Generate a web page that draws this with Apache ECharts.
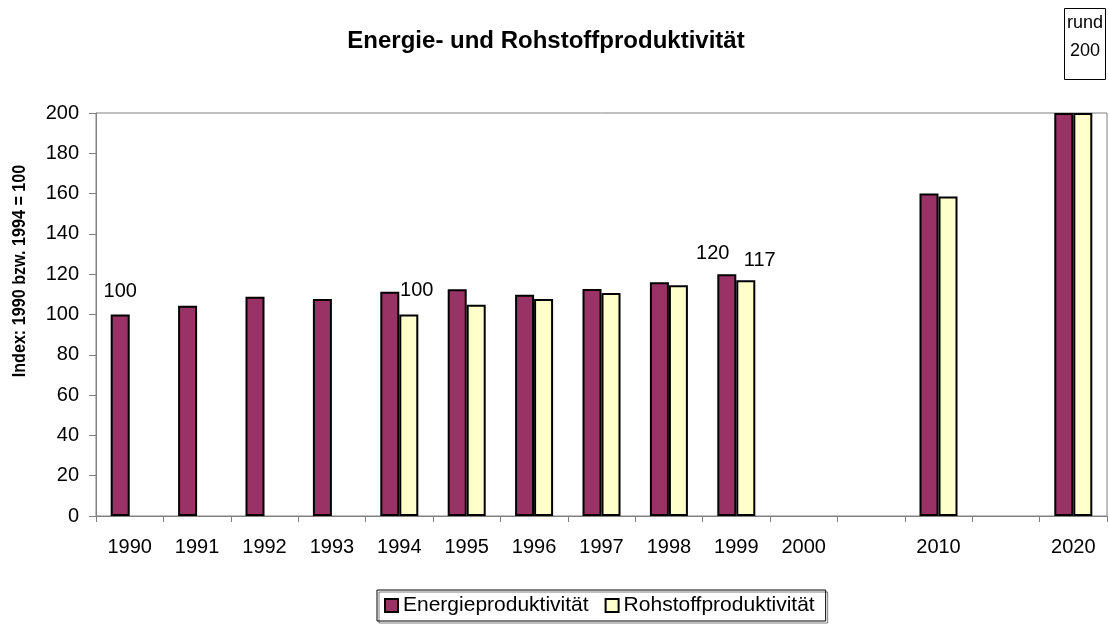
<!DOCTYPE html>
<html>
<head>
<meta charset="utf-8">
<script src="https://cdn.jsdelivr.net/npm/echarts@6/dist/echarts.min.js"></script>
<style>
html,body{margin:0;padding:0;background:#fff;}
#c{width:1109px;height:625px;}
</style>
</head>
<body>
<div id="c"></div>
<script>
var categories = ['1990','1991','1992','1993','1994','1995','1996','1997','1998','1999','2000','','2010','','2020'];
var energie = [100, 104.4, 108.8, 107.7, 111.3, 112.5, 109.8, 112.7, 116, 120, null, null, 160, null, 200];
var rohstoff = [null, null, null, null, 100, 104.9, 107.7, 110.7, 114.5, 117, null, null, 158.6, null, 200];
var energieLabelled = [0, 9];
var rohstoffLabelled = [4, 9];
var yTicks = [0, 20, 40, 60, 80, 100, 120, 140, 160, 180, 200];

var font = 'Liberation Sans, Arial, sans-serif';

function build(values, labelled, offsets) {
  return values.map(function (v, i) {
    var k = labelled.indexOf(i);
    if (k >= 0 && v != null) {
      return { value: v, label: { show: true, position: 'top', offset: offsets[k], formatter: String(Math.round(v)) } };
    }
    return v;
  });
}

var chart = echarts.init(document.getElementById('c'));
chart.setOption({
  animation: false,
  title: [
    { text: 'Energie- und Rohstoffproduktivität', left: 546, textAlign: 'center', top: 29, padding: 0,
      textStyle: { fontFamily: font, fontSize: 24, fontWeight: 'bold', color: '#000' } },
    { text: 'rund\n200', left: 1082, textAlign: 'center', top: 8, borderWidth: 1, borderColor: '#000', padding: [1, 3, 15, 3],
      textStyle: { fontFamily: font, fontSize: 18, fontWeight: 'normal', color: '#000', lineHeight: 28 } }
  ],
  graphic: [
    { type: 'text', x: 20, y: 271, rotation: Math.PI / 2, scaleX: 0.85,
      style: { text: 'Index: 1990 bzw. 1994 = 100', fill: '#000', font: 'bold 19px ' + font,
        textAlign: 'center', textVerticalAlign: 'middle' } }
  ],
  legend: {
    bottom: 4, left: 377,
    itemWidth: 13, itemHeight: 13, itemGap: 16,
    borderColor: '#000', borderWidth: 1, padding: [5, 11, 5, 7],
    shadowColor: 'rgba(0,0,0,0.5)', shadowOffsetX: 2, shadowOffsetY: 2,
    textStyle: { fontFamily: font, fontSize: 21, color: '#000' },
    data: [
      { name: 'Energieproduktivität', icon: 'rect', itemStyle: { borderColor: '#000', borderWidth: 2 } },
      { name: 'Rohstoffproduktivität', icon: 'rect', itemStyle: { borderColor: '#000', borderWidth: 2 } }
    ]
  },
  grid: { left: 96, right: 2, top: 113, bottom: 109, show: true, borderColor: '#808080', borderWidth: 1 },
  xAxis: {
    type: 'category', data: categories,
    axisLine: { lineStyle: { color: '#808080' } },
    axisTick: { show: true, alignWithLabel: false, length: 6, lineStyle: { color: '#808080' } },
    axisLabel: { fontFamily: font, fontSize: 20, color: '#000', margin: 21, interval: 0 }
  },
  yAxis: {
    type: 'value', min: 0, max: 200, interval: 20,
    axisLine: { show: true, lineStyle: { color: '#808080' } },
    axisTick: { show: true, length: 7, lineStyle: { color: '#808080' } },
    splitLine: { show: false },
    axisLabel: { fontFamily: font, fontSize: 20, color: '#000', margin: 17,
      formatter: function (v) { return yTicks.indexOf(v) >= 0 ? String(v) : ''; } }
  },
  series: [
    { name: 'Energieproduktivität', type: 'bar', barWidth: 19, barGap: '0%',
      itemStyle: { color: '#993366', borderColor: '#000', borderWidth: 2 },
      label: { fontFamily: font, fontSize: 20, color: '#000' },
      data: build(energie, energieLabelled, [[0, -8], [-14, -6]]) },
    { name: 'Rohstoffproduktivität', type: 'bar', barWidth: 19, barGap: '0%',
      itemStyle: { color: '#FFFFCC', borderColor: '#000', borderWidth: 2 },
      label: { fontFamily: font, fontSize: 20, color: '#000' },
      data: build(rohstoff, rohstoffLabelled, [[8, -9], [14, -5]]) }
  ]
});
</script>
</body>
</html>
